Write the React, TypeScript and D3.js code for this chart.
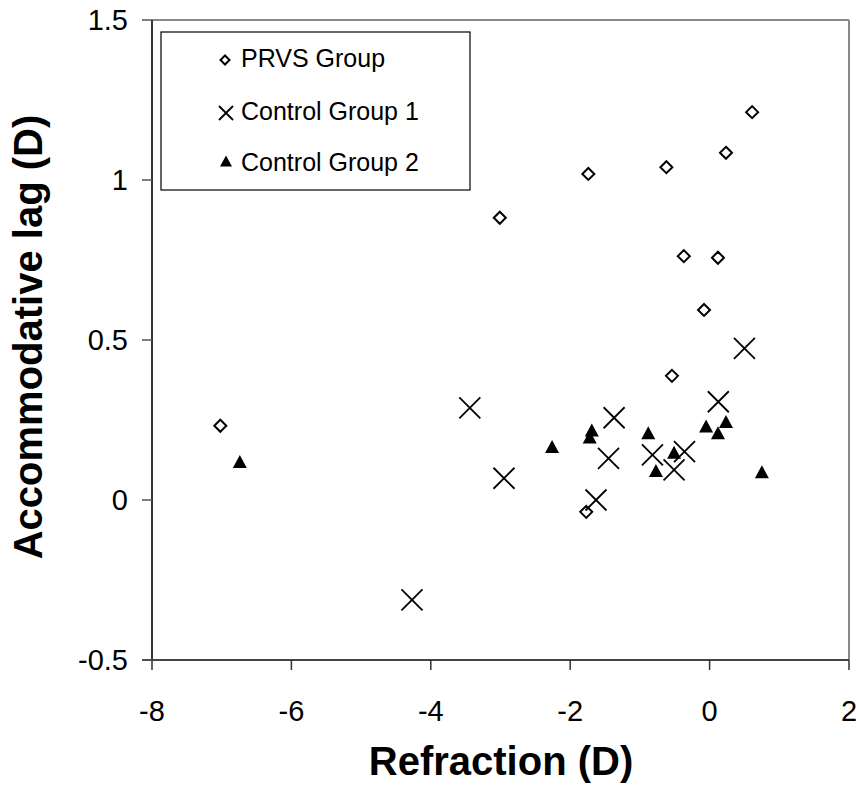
import React from "react";
import * as d3 from "d3";

const prvsX = [-7.02, -3.01, -1.74, -0.62, 0.235, 0.61, -0.37, 0.12, -0.08, -0.54, -1.77];
const prvsY = [0.232, 0.882, 1.019, 1.04, 1.085, 1.212, 0.762, 0.757, 0.594, 0.388, -0.037];

const ctrl1X = [0.5, 0.125, -1.37, -1.45, -0.82, -0.36, -0.51, -1.63, -2.95, -3.44, -4.27];
const ctrl1Y = [0.474, 0.307, 0.257, 0.13, 0.141, 0.151, 0.094, 0.0, 0.068, 0.288, -0.312];

const ctrl2X = [-6.74, -2.26, -1.69, -1.72, -0.88, -0.51, -0.77, -0.05, 0.235, 0.12, 0.75];
const ctrl2Y = [0.12, 0.167, 0.219, 0.197, 0.21, 0.149, 0.092, 0.231, 0.245, 0.21, 0.088];

const xTicks = [-8, -6, -4, -2, 0, 2];
const yTicks = [-0.5, 0, 0.5, 1, 1.5];
const legendLabels = ["PRVS Group", "Control Group 1", "Control Group 2"];

const W = 859;
const H = 791;
const left = 152;
const right = 849;
const top = 20;
const bottom = 660;
const FONT = "'Liberation Sans', Arial, sans-serif";

function Diamond({ cx, cy, r }: { cx: number; cy: number; r: number }) {
  return (
    <path
      d={`M${cx},${cy - r}L${cx + r},${cy}L${cx},${cy + r}L${cx - r},${cy}Z`}
      fill="#fff"
      stroke="#000"
      strokeWidth={2}
    />
  );
}

function Cross({ cx, cy, r }: { cx: number; cy: number; r: number }) {
  return (
    <path
      d={`M${cx - r},${cy - r}L${cx + r},${cy + r}M${cx - r},${cy + r}L${cx + r},${cy - r}`}
      stroke="#000"
      strokeWidth={1.8}
      fill="none"
    />
  );
}

function Tri({ cx, cy, w, h }: { cx: number; cy: number; w: number; h: number }) {
  return (
    <path
      d={`M${cx},${cy - h / 2}L${cx + w / 2},${cy + h / 2}L${cx - w / 2},${cy + h / 2}Z`}
      fill="#000"
    />
  );
}

export default function App() {
  const x = d3.scaleLinear().domain([-8, 2]).range([left, right]);
  const y = d3.scaleLinear().domain([-0.5, 1.5]).range([bottom, top]);

  return (
    <svg
      width={W}
      height={H}
      style={{ position: "absolute", left: 0, top: 0, background: "#fff" }}
      fontFamily={FONT}
    >
      <rect x={0} y={0} width={W} height={H} fill="#fff" />
      {/* plot frame top/right */}
      <line x1={left} y1={top} x2={right} y2={top} stroke="#888" strokeWidth={2} />
      <line x1={right} y1={top} x2={right} y2={bottom} stroke="#888" strokeWidth={2} />
      {/* axes */}
      <line x1={left} y1={top} x2={left} y2={bottom} stroke="#333" strokeWidth={2} />
      <line x1={left - 10} y1={bottom} x2={right} y2={bottom} stroke="#444" strokeWidth={2} />
      {yTicks.map((t) => (
        <g key={"y" + t}>
          <line x1={left - 10} x2={left} y1={y(t)} y2={y(t)} stroke="#555" strokeWidth={1.5} />
          <text x={128} y={y(t)} dy="0.36em" textAnchor="end" fontSize={29} fill="#000">
            {t}
          </text>
        </g>
      ))}
      {xTicks.map((t) => (
        <g key={"x" + t}>
          <line x1={x(t)} x2={x(t)} y1={bottom} y2={bottom + 10} stroke="#333" strokeWidth={1.5} />
          <text x={x(t)} y={721} textAnchor="middle" fontSize={29} fill="#000">
            {t}
          </text>
        </g>
      ))}
      <text x={501} y={775} textAnchor="middle" fontSize={40} fontWeight="bold" fill="#000">
        Refraction (D)
      </text>
      <text
        transform={`translate(42,337) rotate(-90)`}
        textAnchor="middle"
        fontSize={40}
        fontWeight="bold"
        fill="#000"
      >
        Accommodative lag (D)
      </text>

      {/* data */}
      {prvsX.map((v, i) => (
        <Diamond key={"p" + i} cx={x(v)} cy={y(prvsY[i])} r={6} />
      ))}
      {ctrl1X.map((v, i) => (
        <Cross key={"c" + i} cx={x(v)} cy={y(ctrl1Y[i])} r={10.5} />
      ))}
      {ctrl2X.map((v, i) => (
        <Tri key={"t" + i} cx={x(v)} cy={y(ctrl2Y[i])} w={14} h={13} />
      ))}

      {/* legend */}
      <rect x={161} y={32} width={309} height={158} fill="#fff" stroke="#000" strokeWidth={1.2} />
      <Diamond cx={225} cy={60} r={4.5} />
      <Cross cx={226} cy={113} r={7} />
      <Tri cx={226} cy={161} w={12} h={11} />
      {legendLabels.map((l, i) => (
        <text key={l} x={241} y={[58, 111, 162][i]} dy="0.36em" fontSize={25} fill="#000">
          {l}
        </text>
      ))}
    </svg>
  );
}
